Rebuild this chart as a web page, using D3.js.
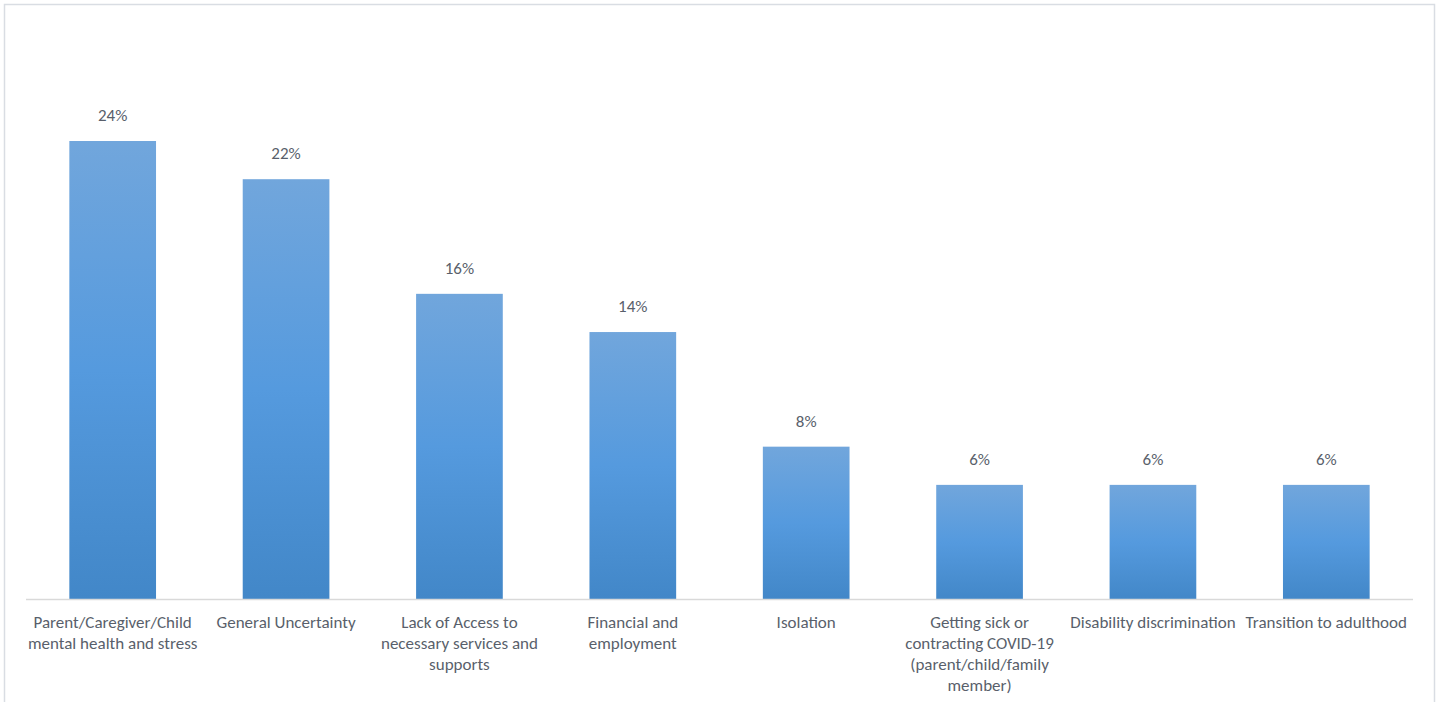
<!DOCTYPE html>
<html>
<head>
<meta charset="utf-8">
<script src="https://cdn.jsdelivr.net/npm/d3@7"></script>
<style>
  html, body { margin: 0; padding: 0; background: #fff; }
  svg { display: block; }
</style>
</head>
<body>
<svg id="chart" width="1440" height="702"></svg>
<script>
// Share of respondents naming each concern
const categories = [
  "Parent/Caregiver/Child mental health and stress",
  "General Uncertainty",
  "Lack of Access to necessary services and supports",
  "Financial and employment",
  "Isolation",
  "Getting sick or contracting COVID-19 (parent/child/family member)",
  "Disability discrimination",
  "Transition to adulthood"
];
const values = [24, 22, 16, 14, 8, 6, 6, 6];
// Category labels broken into lines as they are set under each bar
const labelLines = [
  ["Parent/Caregiver/Child", "mental health and stress"],
  ["General Uncertainty"],
  ["Lack of Access to", "necessary services and", "supports"],
  ["Financial and", "employment"],
  ["Isolation"],
  ["Getting sick or", "contracting COVID-19", "(parent/child/family", "member)"],
  ["Disability discrimination"],
  ["Transition to adulthood"]
];

const svg = d3.select("#chart");
const textColor = "#595f6b";
const font = "Carlito, Lato, 'Open Sans', sans-serif";

// Outer chart frame
svg.append("rect")
  .attr("x", 4.5).attr("y", 4.5)
  .attr("width", 1430).attr("height", 720)
  .attr("fill", "#fff")
  .attr("stroke", "#d9dde3").attr("stroke-width", 1.5);

// Vertical gradient used by every bar
const defs = svg.append("defs");
const grad = defs.append("linearGradient")
  .attr("id", "barGrad").attr("x1", 0).attr("y1", 0).attr("x2", 0).attr("y2", 1);
grad.append("stop").attr("offset", "0%").attr("stop-color", "#71a6dc");
grad.append("stop").attr("offset", "50%").attr("stop-color", "#559ade");
grad.append("stop").attr("offset", "100%").attr("stop-color", "#4287c8");

const x = d3.scaleBand()
  .domain(categories)
  .range([26, 1413])
  .paddingInner(0.5)
  .paddingOuter(0.25);

const y = d3.scaleLinear()
  .domain([0, 24])
  .range([599.5, 141]);

// Bars
svg.append("g").selectAll("rect")
  .data(categories)
  .join("rect")
  .attr("x", d => x(d))
  .attr("y", (d, i) => y(values[i]))
  .attr("width", x.bandwidth())
  .attr("height", (d, i) => y(0) - y(values[i]))
  .attr("fill", "url(#barGrad)");

// Category axis line
svg.append("line")
  .attr("x1", 26).attr("x2", 1413)
  .attr("y1", 599.5).attr("y2", 599.5)
  .attr("stroke", "#d9d9d9").attr("stroke-width", 1.5);

// Value labels above bars
svg.append("g").selectAll("text")
  .data(categories)
  .join("text")
  .attr("x", d => x(d) + x.bandwidth() / 2)
  .attr("y", (d, i) => y(values[i]) - 20)
  .attr("text-anchor", "middle")
  .attr("font-family", font)
  .attr("font-size", 17)
  .attr("fill", textColor)
  .text((d, i) => values[i] + "%");

// Category labels, wrapped
const lab = svg.append("g").selectAll("text")
  .data(categories)
  .join("text")
  .attr("x", d => x(d) + x.bandwidth() / 2)
  .attr("y", 628)
  .attr("text-anchor", "middle")
  .attr("font-family", font)
  .attr("font-size", 17)
  .attr("fill", textColor);

lab.each(function(d, i) {
  const t = d3.select(this);
  labelLines[i].forEach((line, j) => {
    t.append("tspan")
      .attr("x", x(d) + x.bandwidth() / 2)
      .attr("y", 628 + j * 21)
      .text(line);
  });
});
</script>
</body>
</html>
